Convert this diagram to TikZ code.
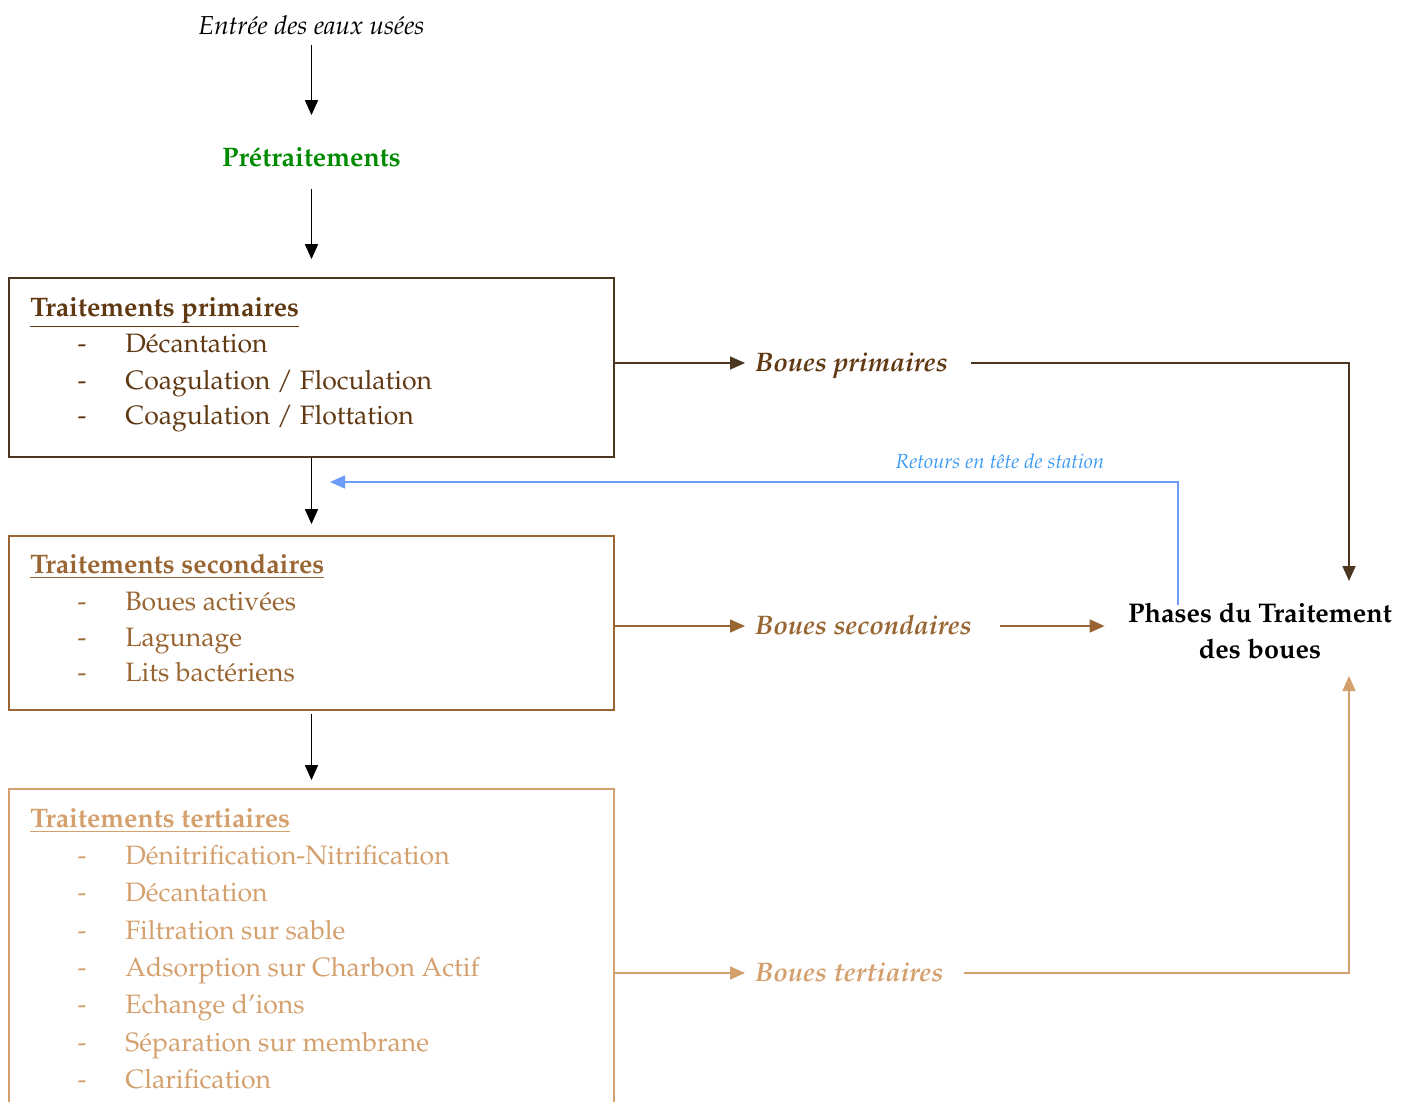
\documentclass[tikz,border=0pt]{standalone}
\usepackage[T1]{fontenc}
\usepackage{mathpazo}
\usetikzlibrary{arrows.meta}
\definecolor{cprim}{HTML}{603913}
\definecolor{cprimline}{HTML}{4B3621}
\definecolor{csec}{HTML}{996633}
\definecolor{cter}{HTML}{D4A06E}
\definecolor{cblue}{HTML}{6C9CF8}
\definecolor{cbluetxt}{HTML}{3D9BF5}
\definecolor{cgreen}{HTML}{008A00}
\newcommand\fsz[1]{\fontsize{#1}{#1}\selectfont}
\newcommand\ulin[1]{\underline{#1}}
\tikzset{
  x=0.5pt, y=-0.5pt,
  txt/.style={inner sep=0pt, font=\fsz{13}},
  item/.style={inner sep=0pt, anchor=base west, font=\fsz{13.3}},
  dashm/.style={inner sep=0pt, anchor=base, font=\fsz{13.3}},
  boxs/.style={draw, line width=0.9pt, minimum width=302.5pt, inner sep=0pt},
  tip/.style={-{Triangle[length=7.5pt,width=6.5pt]}},
  arr/.style={line width=0.85pt, tip},
  bl/.style={inner sep=0pt, anchor=mid west, font=\fsz{13.4}\bfseries\itshape},
}
\begin{document}
\begin{tikzpicture}
\useasboundingbox (0,0) rectangle (1410,1102);

% top
\node[txt] (entree) at (311.5,25) {\itshape Entr\'ee des eaux us\'ees};
\node[txt, text=cgreen, font=\fsz{13.4}\bfseries] (pret) at (311.5,157) {Pr\'etraitements};

% boxes
\node[boxs, draw=cprimline, minimum height=89.5pt] (prim) at (311.5,367.5) {};
\node[boxs, draw=csec, minimum height=87pt] (sec) at (311.5,623) {};
\node[boxs, draw=cter, minimum height=170.5pt] (ter) at (311.5,959.5) {};

% primary text
\begin{scope}[text=cprim]
\node[item, font=\fsz{13.4}\bfseries] (pt) at (30,316) {\ulin{Traitements primaires}};
\node[dashm] (pd1) at (82,352) {-}; \node[item] (p1) at (125,352) {D\'ecantation};
\node[dashm] (pd2) at (82,389) {-}; \node[item] (p2) at (125,389) {Coagulation / Floculation};
\node[dashm] (pd3) at (82,424) {-}; \node[item] (p3) at (125,424) {Coagulation / Flottation};
\end{scope}

% secondary text
\begin{scope}[text=csec]
\node[item, font=\fsz{13.4}\bfseries] (st) at (30,573) {\ulin{Traitements secondaires}};
\node[dashm] (sd1) at (82,610) {-}; \node[item] (s1) at (125,610) {Boues activ\'ees};
\node[dashm] (sd2) at (82,646) {-}; \node[item] (s2) at (125,646) {Lagunage};
\node[dashm] (sd3) at (82,681) {-}; \node[item] (s3) at (125,681) {Lits bact\'eriens};
\end{scope}

% tertiary text
\begin{scope}[text=cter]
\node[item, font=\fsz{13.4}\bfseries] (tt) at (30,827) {\ulin{Traitements tertiaires}};
\node[dashm] (td1) at (82,864) {-}; \node[item] (t1) at (125,864) {D\'enitrification-Nitrification};
\node[dashm] (td2) at (82,901) {-}; \node[item] (t2) at (125,901) {D\'ecantation};
\node[dashm] (td3) at (82,939) {-}; \node[item] (t3) at (125,939) {Filtration sur sable};
\node[dashm] (td4) at (82,976) {-}; \node[item] (t4) at (125,976) {Adsorption sur Charbon Actif};
\node[dashm] (td5) at (82,1013) {-}; \node[item] (t5) at (125,1013) {Echange d'ions};
\node[dashm] (td6) at (82,1051) {-}; \node[item] (t6) at (125,1051) {S\'eparation sur membrane};
\node[dashm] (td7) at (82,1088) {-}; \node[item] (t7) at (125,1088) {Clarification};
\end{scope}

% sludge labels
\node[bl, text=cprim] (bp) at (755,367) {Boues primaires};
\node[bl, text=csec] (bs) at (755,630) {Boues secondaires};
\node[bl, text=cter] (bt) at (755,977) {Boues tertiaires};

% phases
\node[inner sep=0pt, align=center, font=\fontsize{13.5}{18}\selectfont\bfseries] (phases) at (1260,631) {Phases du Traitement\\des boues};
\coordinate (phN) at (1349,581);
\coordinate (phS) at (1349,676);

% return
\node[inner sep=0pt, text=cbluetxt, font=\fsz{10.2}\itshape] (ret) at (1000,461) {Retours en t\^ete de station};
\coordinate (retS) at (1178,605);
\coordinate (retE) at (330,482);

% main flow arrows
\draw[arr, shorten <=5pt, shorten >=16pt] (entree) -- (pret);
\draw[arr, shorten <=11pt, shorten >=9pt] (pret) -- (prim);
\draw[arr, shorten >=5.5pt] (prim) -- (sec);
\draw[arr, shorten <=1.5pt, shorten >=4pt] (sec) -- (ter);

% sludge arrows
\draw[arr, draw=cprimline, shorten >=5pt] ([yshift=2pt]prim.east |- bp.mid west) -- ([yshift=2pt]bp.mid west);
\draw[arr, draw=cprimline, shorten <=11.5pt] ([yshift=2pt]bp.mid east) -| (phN);

\draw[arr, draw=csec, shorten >=5pt] ([yshift=2pt]sec.east |- bs.mid west) -- ([yshift=2pt]bs.mid west);
\draw[arr, draw=csec, shorten <=14pt, shorten >=11.5pt] ([yshift=2pt]bs.mid east) -- ([yshift=2pt]phases.west |- bs.mid east);

\draw[arr, draw=cter, shorten >=5pt] ([yshift=2pt]ter.east |- bt.mid west) -- ([yshift=2pt]bt.mid west);
\draw[arr, draw=cter, shorten <=10pt] ([yshift=2pt]bt.mid east) -| (phS);

\draw[line width=0.8pt, draw=cblue, tip] (retS) |- (retE);
\end{tikzpicture}
\end{document}
